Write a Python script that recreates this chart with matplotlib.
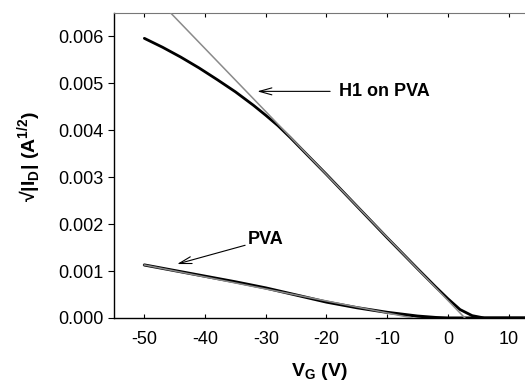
import matplotlib
matplotlib.use("Agg")
import matplotlib.pyplot as plt
import numpy as np

plt.rcParams['font.family'] = ['Liberation Sans', 'DejaVu Sans']
plt.rcParams['mathtext.fontset'] = 'custom'
plt.rcParams['mathtext.rm'] = 'Liberation Sans'
plt.rcParams['mathtext.bf'] = 'Liberation Sans:bold'
plt.rcParams['axes.unicode_minus'] = False

# H1 on PVA measured curve
h1_vg = [-50, -47, -44, -41, -38, -35, -32, -30, -28, -26, -20, -10, -5, -2, 0, 2, 4, 6, 13]
h1_id = [0.00596, 0.00577, 0.00556, 0.00533, 0.00508, 0.00482, 0.00453, 0.00432, 0.00410,
         0.00385, 0.00306, 0.00171, 0.00105, 0.00066, 0.00041, 0.00018, 0.00005, 0.0, 0.0]
# H1 linear fit
h1_fit_vg = [-47, 2.8]
h1_fit_id = [0.00668, 0.0]

# PVA measured curve
pva_vg = [-50, -45, -40, -35, -30, -25, -20, -15, -10, -5, -2, 0, 13]
pva_id = [0.00113, 0.00101, 0.00089, 0.00077, 0.00064, 0.00049, 0.00034, 0.00022,
          0.00012, 0.00004, 0.00001, 0.0, 0.0]
# PVA linear fit
pva_fit_vg = [-50, -5.8]
pva_fit_id = [0.00113, 0.0]

xticks = [-50, -40, -30, -20, -10, 0, 10]
yticks = [0.000, 0.001, 0.002, 0.003, 0.004, 0.005, 0.006]

fig = plt.figure(figsize=(5.25, 3.84), dpi=100)
ax = fig.add_axes([114/525, 1-318/384, 1-114/525, (318-13)/384])

ax.plot(h1_vg, h1_id, color='black', lw=2.0, solid_capstyle='round', zorder=2)
ax.plot(h1_fit_vg, h1_fit_id, color='#8a8a8a', lw=1.1, zorder=3)
ax.plot(pva_vg, pva_id, color='black', lw=2.2, solid_capstyle='round', zorder=2)
ax.plot(pva_fit_vg, pva_fit_id, color='#8a8a8a', lw=1.1, zorder=3)

ax.set_xlim(-55, 12.7)
ax.set_ylim(0, 0.0065)
ax.set_xticks(xticks)
ax.set_yticks(yticks)
ax.set_xticklabels([str(v) for v in xticks])
ax.set_yticklabels([f"{v:.3f}" for v in yticks])

ax.spines['right'].set_visible(False)
ax.spines['top'].set_color('#777777')
for s in ['left', 'bottom']:
    ax.spines[s].set_linewidth(1.0)
ax.tick_params(axis='x', direction='in', top=True, length=3, labelsize=13, pad=9)
ax.tick_params(axis='y', direction='out', length=4, labelsize=13)

ax.set_xlabel(r'V$_\mathbf{G}$ (V)', fontsize=14, fontweight='bold')
ax.set_ylabel('√|I$_\\mathbf{D}$| (A$^\\mathbf{1/2}$)', fontsize=14, fontweight='bold')
ax.xaxis.set_label_coords(0.5, -0.14)
ax.yaxis.set_label_coords(-0.17, 0.53)

arrow = dict(arrowstyle='->,head_length=0.9,head_width=0.25', color='black', lw=0.8,
             shrinkA=0, shrinkB=0)
ax.annotate('', xy=(-31.4, 0.00483), xytext=(-19.4, 0.00483), arrowprops=arrow)
ax.text(-18.0, 0.00483, 'H1 on PVA', fontsize=13, fontweight='bold', va='center', ha='left')
ax.annotate('', xy=(-44.6, 0.00115), xytext=(-33.4, 0.00155), arrowprops=arrow)
ax.text(-33.0, 0.00168, 'PVA', fontsize=13, fontweight='bold', va='center', ha='left')

fig.savefig('out.png', dpi=100)
